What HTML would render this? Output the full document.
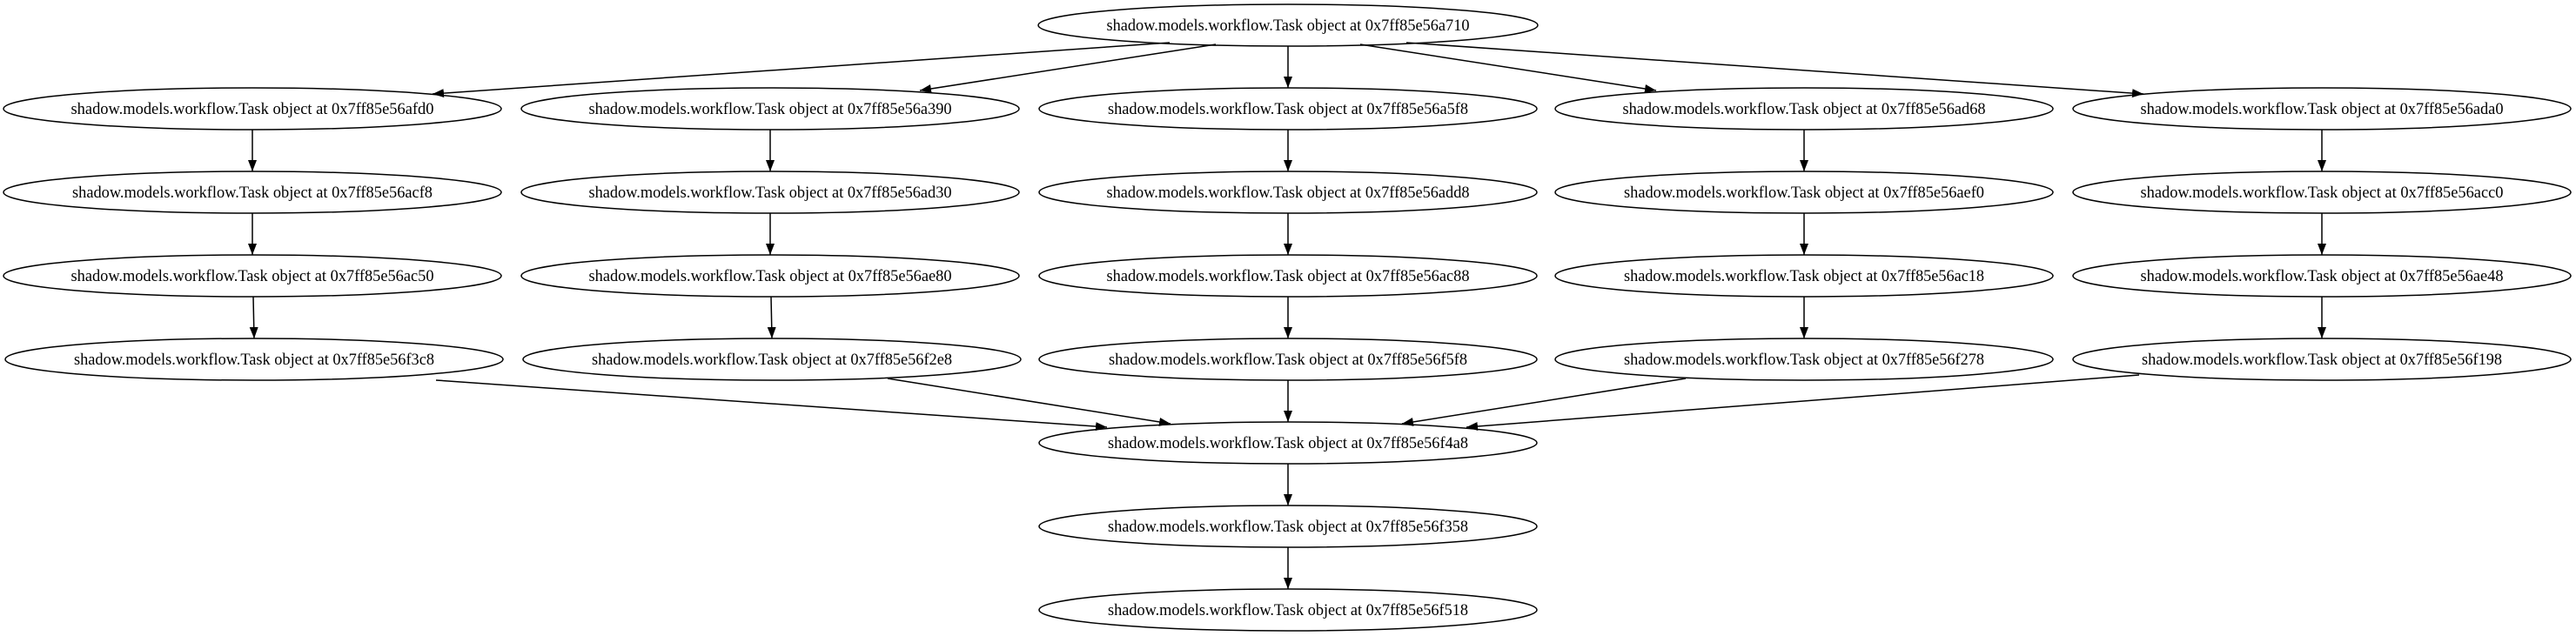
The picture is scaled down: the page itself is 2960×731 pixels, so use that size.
<!DOCTYPE html>
<html><head><meta charset="utf-8"><style>
html,body{margin:0;padding:0;background:#fff;}
svg{display:block;}
text{font-family:"Liberation Serif",serif;font-size:18.7px;fill:#000;}
</style></head><body>
<svg width="2960" height="731" viewBox="0 0 2960 731" xmlns="http://www.w3.org/2000/svg">
<defs>
<marker id="a" markerUnits="userSpaceOnUse" markerWidth="14" markerHeight="10" refX="13" refY="5" orient="auto">
<path d="M0,0 L13,5 L0,10 Z" fill="#000"/>
</marker>
</defs>
<g fill="none" stroke="#000" stroke-width="1.5">
<line x1="1344" y1="49" x2="497" y2="108" marker-end="url(#a)"/>
<line x1="1397" y1="51" x2="1057" y2="104" marker-end="url(#a)"/>
<line x1="1480" y1="53" x2="1480" y2="101" marker-end="url(#a)"/>
<line x1="1563" y1="51" x2="1903" y2="104" marker-end="url(#a)"/>
<line x1="1616" y1="49" x2="2463" y2="108" marker-end="url(#a)"/>
<line x1="290" y1="149" x2="290" y2="197" marker-end="url(#a)"/>
<line x1="290" y1="245" x2="290" y2="293" marker-end="url(#a)"/>
<line x1="291" y1="341" x2="292" y2="389" marker-end="url(#a)"/>
<line x1="885" y1="149" x2="885" y2="197" marker-end="url(#a)"/>
<line x1="885" y1="245" x2="885" y2="293" marker-end="url(#a)"/>
<line x1="886" y1="341" x2="887" y2="389" marker-end="url(#a)"/>
<line x1="1480" y1="149" x2="1480" y2="197" marker-end="url(#a)"/>
<line x1="1480" y1="245" x2="1480" y2="293" marker-end="url(#a)"/>
<line x1="1480" y1="341" x2="1480" y2="389" marker-end="url(#a)"/>
<line x1="2073" y1="149" x2="2073" y2="197" marker-end="url(#a)"/>
<line x1="2073" y1="245" x2="2073" y2="293" marker-end="url(#a)"/>
<line x1="2073" y1="341" x2="2073" y2="389" marker-end="url(#a)"/>
<line x1="2668" y1="149" x2="2668" y2="197" marker-end="url(#a)"/>
<line x1="2668" y1="245" x2="2668" y2="293" marker-end="url(#a)"/>
<line x1="2668" y1="341" x2="2668" y2="389" marker-end="url(#a)"/>
<line x1="501" y1="437" x2="1272" y2="491" marker-end="url(#a)"/>
<line x1="1020" y1="435" x2="1345" y2="487" marker-end="url(#a)"/>
<line x1="1480" y1="437" x2="1480" y2="485" marker-end="url(#a)"/>
<line x1="1937" y1="435" x2="1611" y2="487" marker-end="url(#a)"/>
<line x1="2458" y1="431" x2="1685" y2="491" marker-end="url(#a)"/>
<line x1="1480" y1="533" x2="1480" y2="581" marker-end="url(#a)"/>
<line x1="1480" y1="629" x2="1480" y2="677" marker-end="url(#a)"/>
<ellipse cx="1480" cy="29" rx="287" ry="24"/>
<ellipse cx="290" cy="125" rx="286" ry="24"/>
<ellipse cx="885" cy="125" rx="286" ry="24"/>
<ellipse cx="1480" cy="125" rx="286" ry="24"/>
<ellipse cx="2073" cy="125" rx="286" ry="24"/>
<ellipse cx="2668" cy="125" rx="286" ry="24"/>
<ellipse cx="290" cy="221" rx="286" ry="24"/>
<ellipse cx="885" cy="221" rx="286" ry="24"/>
<ellipse cx="1480" cy="221" rx="286" ry="24"/>
<ellipse cx="2073" cy="221" rx="286" ry="24"/>
<ellipse cx="2668" cy="221" rx="286" ry="24"/>
<ellipse cx="290" cy="317" rx="286" ry="24"/>
<ellipse cx="885" cy="317" rx="286" ry="24"/>
<ellipse cx="1480" cy="317" rx="286" ry="24"/>
<ellipse cx="2073" cy="317" rx="286" ry="24"/>
<ellipse cx="2668" cy="317" rx="286" ry="24"/>
<ellipse cx="292" cy="413" rx="286" ry="24"/>
<ellipse cx="887" cy="413" rx="286" ry="24"/>
<ellipse cx="1480" cy="413" rx="286" ry="24"/>
<ellipse cx="2073" cy="413" rx="286" ry="24"/>
<ellipse cx="2668" cy="413" rx="286" ry="24"/>
<ellipse cx="1480" cy="509" rx="286" ry="24"/>
<ellipse cx="1480" cy="605" rx="286" ry="24"/>
<ellipse cx="1480" cy="701" rx="286" ry="24"/>
</g>
<g text-anchor="middle">
<text x="1480" y="35" textLength="417" lengthAdjust="spacingAndGlyphs">shadow.models.workflow.Task object at 0x7ff85e56a710</text>
<text x="290" y="131" textLength="417" lengthAdjust="spacingAndGlyphs">shadow.models.workflow.Task object at 0x7ff85e56afd0</text>
<text x="885" y="131" textLength="417" lengthAdjust="spacingAndGlyphs">shadow.models.workflow.Task object at 0x7ff85e56a390</text>
<text x="1480" y="131" textLength="414" lengthAdjust="spacingAndGlyphs">shadow.models.workflow.Task object at 0x7ff85e56a5f8</text>
<text x="2073" y="131" textLength="417" lengthAdjust="spacingAndGlyphs">shadow.models.workflow.Task object at 0x7ff85e56ad68</text>
<text x="2668" y="131" textLength="417" lengthAdjust="spacingAndGlyphs">shadow.models.workflow.Task object at 0x7ff85e56ada0</text>
<text x="290" y="227" textLength="414" lengthAdjust="spacingAndGlyphs">shadow.models.workflow.Task object at 0x7ff85e56acf8</text>
<text x="885" y="227" textLength="417" lengthAdjust="spacingAndGlyphs">shadow.models.workflow.Task object at 0x7ff85e56ad30</text>
<text x="1480" y="227" textLength="417" lengthAdjust="spacingAndGlyphs">shadow.models.workflow.Task object at 0x7ff85e56add8</text>
<text x="2073" y="227" textLength="414" lengthAdjust="spacingAndGlyphs">shadow.models.workflow.Task object at 0x7ff85e56aef0</text>
<text x="2668" y="227" textLength="417" lengthAdjust="spacingAndGlyphs">shadow.models.workflow.Task object at 0x7ff85e56acc0</text>
<text x="290" y="323" textLength="417" lengthAdjust="spacingAndGlyphs">shadow.models.workflow.Task object at 0x7ff85e56ac50</text>
<text x="885" y="323" textLength="417" lengthAdjust="spacingAndGlyphs">shadow.models.workflow.Task object at 0x7ff85e56ae80</text>
<text x="1480" y="323" textLength="417" lengthAdjust="spacingAndGlyphs">shadow.models.workflow.Task object at 0x7ff85e56ac88</text>
<text x="2073" y="323" textLength="414" lengthAdjust="spacingAndGlyphs">shadow.models.workflow.Task object at 0x7ff85e56ac18</text>
<text x="2668" y="323" textLength="417" lengthAdjust="spacingAndGlyphs">shadow.models.workflow.Task object at 0x7ff85e56ae48</text>
<text x="292" y="419" textLength="414" lengthAdjust="spacingAndGlyphs">shadow.models.workflow.Task object at 0x7ff85e56f3c8</text>
<text x="887" y="419" textLength="414" lengthAdjust="spacingAndGlyphs">shadow.models.workflow.Task object at 0x7ff85e56f2e8</text>
<text x="1480" y="419" textLength="412" lengthAdjust="spacingAndGlyphs">shadow.models.workflow.Task object at 0x7ff85e56f5f8</text>
<text x="2073" y="419" textLength="414" lengthAdjust="spacingAndGlyphs">shadow.models.workflow.Task object at 0x7ff85e56f278</text>
<text x="2668" y="419" textLength="414" lengthAdjust="spacingAndGlyphs">shadow.models.workflow.Task object at 0x7ff85e56f198</text>
<text x="1480" y="515" textLength="414" lengthAdjust="spacingAndGlyphs">shadow.models.workflow.Task object at 0x7ff85e56f4a8</text>
<text x="1480" y="611" textLength="414" lengthAdjust="spacingAndGlyphs">shadow.models.workflow.Task object at 0x7ff85e56f358</text>
<text x="1480" y="707" textLength="414" lengthAdjust="spacingAndGlyphs">shadow.models.workflow.Task object at 0x7ff85e56f518</text>
</g>
</svg>
</body></html>
